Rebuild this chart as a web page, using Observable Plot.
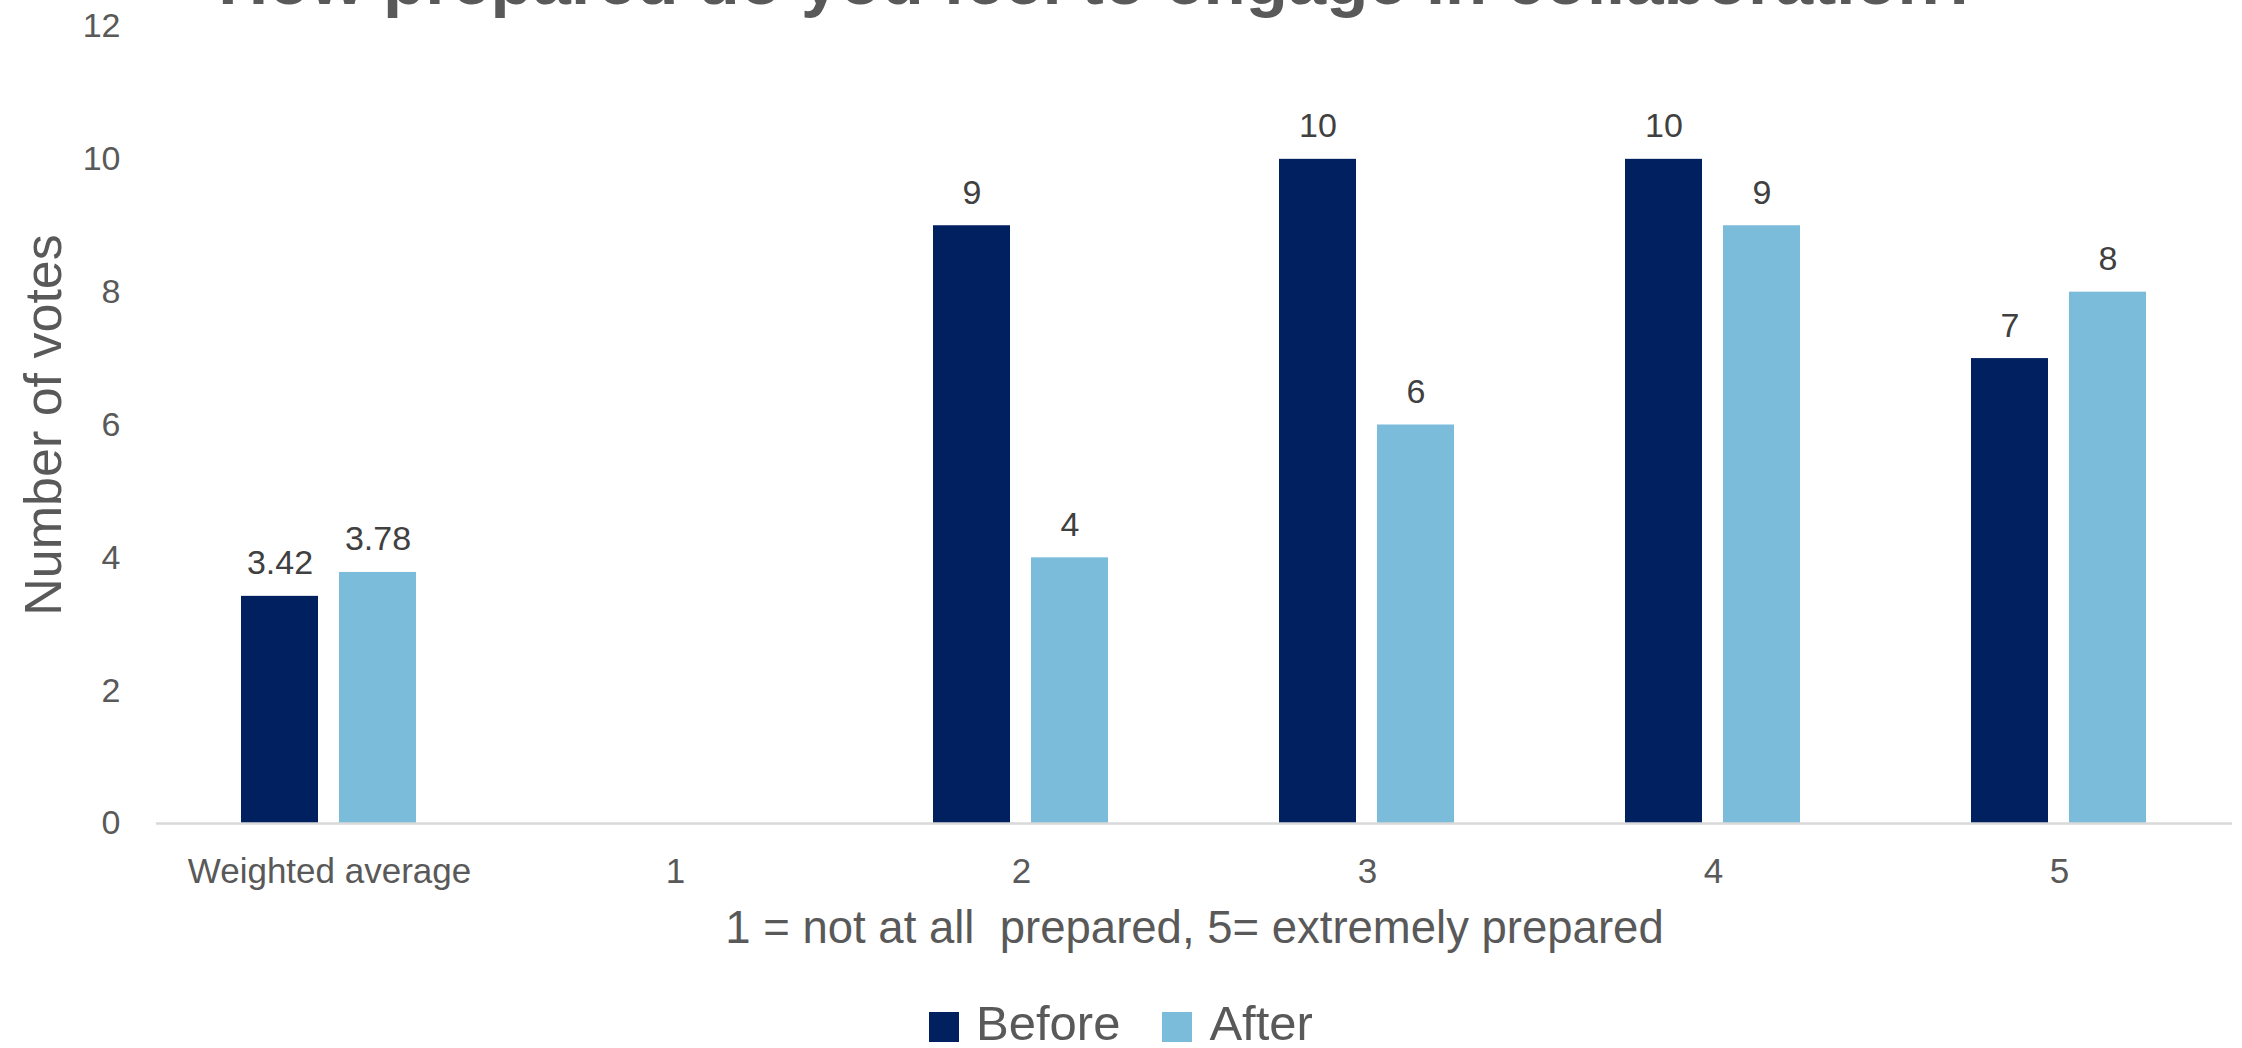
<!DOCTYPE html>
<html>
<head>
<meta charset="utf-8">
<script src="https://cdn.jsdelivr.net/npm/d3@7"></script>
<script src="https://cdn.jsdelivr.net/npm/@observablehq/plot@0.6"></script>
<style>
  html, body { margin: 0; padding: 0; background: #fff; overflow: hidden; }
  body { width: 2242px; height: 1048px; position: relative; font-family: "Liberation Sans", Arial, sans-serif; }
  #title { position: absolute; z-index: 2; left: 0; top: -53px; width: 2200px; text-align: center; font-size: 69px; line-height: 68px; font-weight: bold; color: #595959; white-space: nowrap; }
  #chart { position: absolute; z-index: 1; left: 0; top: 0; }
  #legend { position: absolute; left: 0; top: 999px; width: 2242px; height: 49px; display: flex; align-items: flex-end; justify-content: center; color: #595959; font-size: 49px; line-height: 49px; }
  #legend .item { display: flex; align-items: flex-end; }
  #legend .sw { width: 30px; height: 30px; display: inline-block; margin-right: 17px; margin-bottom: 6px; }
  #legend .gap { width: 42px; }
  g[aria-label="fx-axis label"] text { font-size: 45.5px; white-space: pre; }
  g[aria-label="y-axis label"] text { font-size: 52px; }
</style>
</head>
<body>
<div id="title">How prepared do you feel to engage in collaboration?</div>
<div id="chart"></div>
<div id="legend"></div>
<script>
// ---- data ----
const categories = ["Weighted average", "1", "2", "3", "4", "5"];
const seriesNames = ["Before", "After"];
const beforeValues = [3.42, null, 9, 10, 10, 7];
const afterValues = [3.78, null, 4, 6, 9, 8];
const yTicks = [0, 2, 4, 6, 8, 10, 12];
const seriesColors = ["#002060", "#7bbcdb"];
const xTitle = "1 = not at all  prepared, 5= extremely prepared";
const yTitle = "Number of votes";

const rows = [];
categories.forEach((c, i) => {
  rows.push({cat: c, series: "Before", value: beforeValues[i]});
  rows.push({cat: c, series: "After", value: afterValues[i]});
});
const present = rows.filter(d => d.value != null);

const chart = Plot.plot({
  width: 2242,
  height: 990,
  marginTop: 26,
  marginBottom: 167,
  marginLeft: 154,
  marginRight: 8,
  style: {fontFamily: "'Liberation Sans', Arial, sans-serif", color: "#595959", background: "transparent"},
  fx: {domain: categories, padding: 0},
  x: {domain: seriesNames, paddingInner: 0.212, paddingOuter: 0.857, axis: null},
  y: {domain: [0, 12]},
  color: {domain: seriesNames, range: seriesColors},
  marks: [
    Plot.axisY({
      anchor: "left",
      facetAnchor: "left",
      ticks: yTicks,
      tickSize: 0,
      tickPadding: 36,
      fontSize: 34,
      label: yTitle,
      labelAnchor: "center",
      labelArrow: "none",
      labelOffset: 132
    }),
    Plot.axisFx({
      anchor: "bottom",
      tickSize: 0,
      tickPadding: 35,
      fontSize: 35,
      label: xTitle,
      labelAnchor: "center",
      labelArrow: "none",
      labelOffset: 119
    }),
    Plot.barY(rows, {fx: "cat", x: "series", y: "value", fill: "series"}),
    Plot.ruleY([0], {stroke: "#d9d9d9", strokeWidth: 2.5}),
    Plot.text(present, {
      fx: "cat", x: "series", y: "value",
      text: d => String(d.value),
      lineAnchor: "bottom", dy: -22, fontSize: 34, fill: "#404040"
    })
  ]
});
document.getElementById("chart").appendChild(chart);

// legend
const legend = document.getElementById("legend");
seriesNames.forEach((s, i) => {
  if (i > 0) { const g = document.createElement("span"); g.className = "gap"; legend.appendChild(g); }
  const item = document.createElement("span");
  item.className = "item";
  const sw = document.createElement("span");
  sw.className = "sw";
  sw.style.background = seriesColors[i];
  const t = document.createElement("span");
  t.textContent = s;
  item.appendChild(sw); item.appendChild(t);
  legend.appendChild(item);
});
</script>
</body>
</html>
